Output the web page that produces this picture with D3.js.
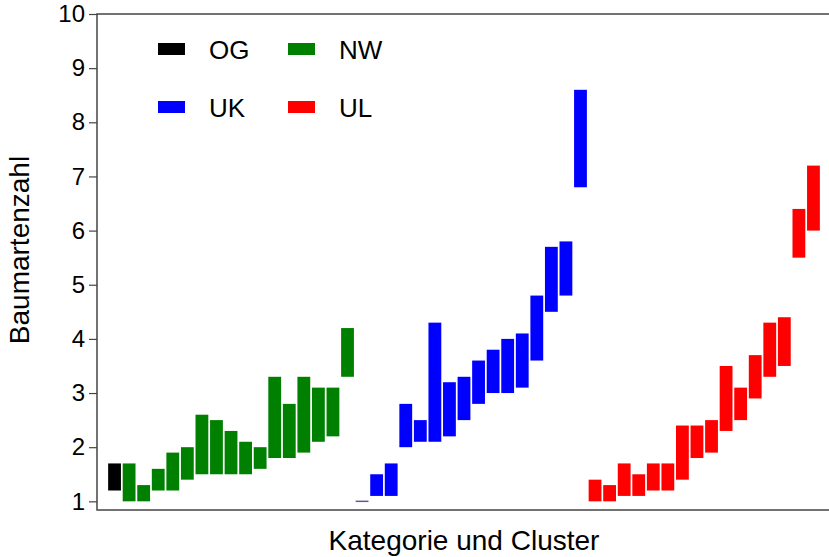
<!DOCTYPE html>
<html>
<head>
<meta charset="utf-8">
<script src="https://cdn.jsdelivr.net/npm/d3@7"></script>
<style>
  html, body { margin: 0; padding: 0; background: #fff; }
  svg { display: block; font-family: "Liberation Sans", Arial, Helvetica, sans-serif; }
</style>
</head>
<body>
<svg id="chart" width="829" height="557"></svg>
<script>
// Categories: old-growth reference, then 16 clusters for each stand category
const categories = [
  "OG",
  "NW1","NW2","NW3","NW4","NW5","NW6","NW7","NW8","NW9","NW10","NW11","NW12","NW13","NW14","NW15","NW16",
  "UK1","UK2","UK3","UK4","UK5","UK6","UK7","UK8","UK9","UK10","UK11","UK12","UK13","UK14","UK15","UK16",
  "UL1","UL2","UL3","UL4","UL5","UL6","UL7","UL8","UL9","UL10","UL11","UL12","UL13","UL14","UL15","UL16"
];
const groupOf = [
  "OG",
  "NW","NW","NW","NW","NW","NW","NW","NW","NW","NW","NW","NW","NW","NW","NW","NW",
  "UK","UK","UK","UK","UK","UK","UK","UK","UK","UK","UK","UK","UK","UK","UK","UK",
  "UL","UL","UL","UL","UL","UL","UL","UL","UL","UL","UL","UL","UL","UL","UL","UL"
];
// Lower and upper bound of tree species count per category
const lowValues = [
  1.2,
  1.0,1.0,1.2,1.2,1.4,1.5,1.5,1.5,1.5,1.6,1.8,1.8,1.9,2.1,2.2,3.3,
  1.0,1.1,1.1,2.0,2.1,2.1,2.2,2.5,2.8,3.0,3.0,3.1,3.6,4.5,4.8,6.8,
  1.0,1.0,1.1,1.1,1.2,1.2,1.4,1.8,1.9,2.3,2.5,2.9,3.3,3.5,5.5,6.0
];
const highValues = [
  1.7,
  1.7,1.3,1.6,1.9,2.0,2.6,2.5,2.3,2.1,2.0,3.3,2.8,3.3,3.1,3.1,4.2,
  1.0,1.5,1.7,2.8,2.5,4.3,3.2,3.3,3.6,3.8,4.0,4.1,4.8,5.7,5.8,8.6,
  1.4,1.3,1.7,1.5,1.7,1.7,2.4,2.4,2.5,3.5,3.1,3.7,4.3,4.4,6.4,7.2
];
const legendGroups = ["OG","NW","UK","UL"];
const groupColors = ["#000000","#008000","#0000ff","#ff0000"];
const yTicks = [1,2,3,4,5,6,7,8,9,10];

const svg = d3.select("#chart");
const margin = {left: 97, right: -2, top: 14, bottom: 47};
const W = 829, H = 557;

const color = d3.scaleOrdinal().domain(legendGroups).range(groupColors);

const x = d3.scaleBand()
  .domain(categories)
  .range([margin.left, W - margin.right])
  .paddingInner(0.12)
  .paddingOuter(0.765);

const y = d3.scaleLinear()
  .domain([0.84, 10])
  .range([H - margin.bottom, margin.top]);

const data = categories.map((c, i) => ({c, g: groupOf[i], lo: lowValues[i], hi: highValues[i]}));

// Bars spanning low..high
svg.append("g").selectAll("rect")
  .data(data.filter(d => d.hi > d.lo))
  .join("rect")
  .attr("x", d => x(d.c))
  .attr("width", x.bandwidth())
  .attr("y", d => y(d.hi))
  .attr("height", d => y(d.lo) - y(d.hi))
  .attr("fill", d => color(d.g));

// Categories with an empty range are drawn as a flat outline
svg.append("g").selectAll("line")
  .data(data.filter(d => d.hi === d.lo))
  .join("line")
  .attr("x1", d => x(d.c))
  .attr("x2", d => x(d.c) + x.bandwidth())
  .attr("y1", d => y(d.lo))
  .attr("y2", d => y(d.lo))
  .attr("stroke", "#5a5aa0")
  .attr("stroke-width", 1.5);

// Plot frame
svg.append("rect")
  .attr("x", margin.left)
  .attr("y", margin.top)
  .attr("width", W - margin.right - margin.left)
  .attr("height", H - margin.bottom - margin.top)
  .attr("fill", "none")
  .attr("stroke", "#444")
  .attr("stroke-width", 1.5);

// Y axis
const yAxis = svg.append("g")
  .attr("transform", `translate(${margin.left},0)`)
  .call(d3.axisLeft(y).tickValues(yTicks).tickFormat(d3.format("d")).tickSize(8).tickPadding(4));
yAxis.select(".domain").remove();
yAxis.selectAll(".tick line").attr("stroke", "#444").attr("stroke-width", 1.2);
yAxis.selectAll(".tick text")
  .attr("font-size", 24)
  .attr("font-family", "Liberation Sans, Arial, sans-serif")
  .attr("fill", "#000");

// Axis titles
svg.append("text")
  .attr("transform", "translate(29,250) rotate(-90)")
  .attr("text-anchor", "middle")
  .attr("font-size", 28)
  .text("Baumartenzahl");

svg.append("text")
  .attr("x", (margin.left + W - margin.right) / 2)
  .attr("y", 550)
  .attr("text-anchor", "middle")
  .attr("font-size", 28)
  .text("Kategorie und Cluster");

// Legend (2 x 2)
const legend = svg.append("g").selectAll("g")
  .data(legendGroups)
  .join("g")
  .attr("transform", (d, i) => `translate(${158 + (i % 2) * 130},${43 + Math.floor(i / 2) * 58})`);
legend.append("rect")
  .attr("width", 27)
  .attr("height", 12)
  .attr("fill", d => color(d));
legend.append("text")
  .attr("x", 51)
  .attr("y", 16)
  .attr("font-size", 26)
  .text(d => d);
</script>
</body>
</html>
